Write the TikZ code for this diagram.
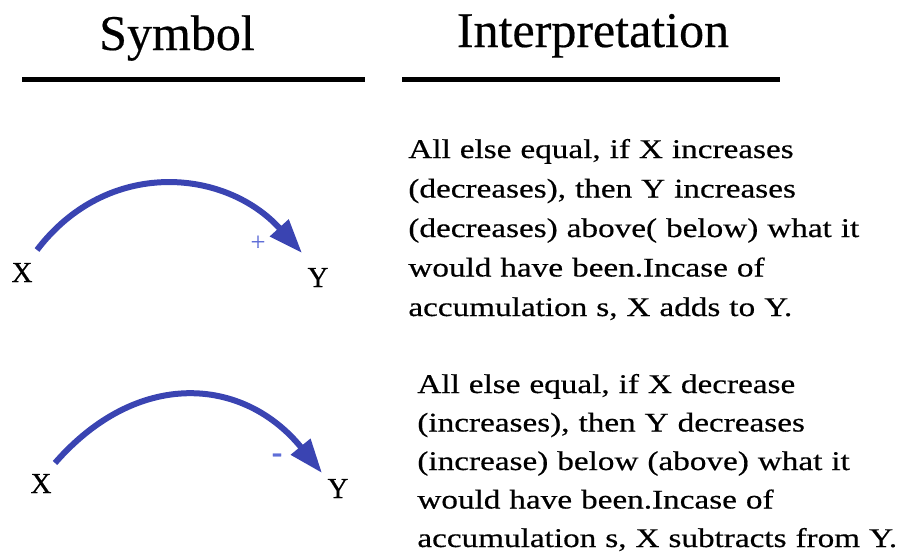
\documentclass[tikz,border=0pt]{standalone}
\usepackage{fontspec}
\setmainfont{Liberation Serif}[FakeBold=0.4]
\newfontfamily\bodyfont[FakeStretch=1.23,FakeBold=0.5]{Liberation Serif}
\usetikzlibrary{arrows.meta}
\definecolor{arcblue}{RGB}{58,68,178}
\definecolor{signblue}{RGB}{95,110,215}
\tikzset{
  head/.style={font=\fontsize{25}{30}\selectfont,anchor=base,inner sep=0pt},
  var/.style={font=\fontsize{14.5}{17}\selectfont,anchor=base,inner sep=0pt},
  txt/.style={font=\bodyfont\fontsize{13.5}{#1}\selectfont,anchor=base west,
              inner sep=0pt,text width=250pt,align=left},
  rule/.style={line width=2.5pt},
  arc/.style={arcblue,line width=3pt,-{Triangle[length=17pt,width=12pt]}},
  sgn/.style={signblue,inner sep=0pt},
}

\begin{document}
\begin{tikzpicture}[x=0.5pt, y=-0.5pt]
  \useasboundingbox (0,0) rectangle (902,558);
  \node[head] (hsym) at (177,50) {Symbol};
  \node[head] (hint) at (593,47) {Interpretation};
  \draw[rule] (22,79) -- (365,79);
  \draw[rule] (402,79) -- (780,79);
  \node[var] (x1) at (22,282) {X};
  \node[var] (y1) at (318,287) {Y};
  \coordinate (s1) at (37,250);
  \coordinate (t1) at (302,253);
  \draw[arc] (s1) .. controls +(70,-92) and +(-77,-85) .. (t1);
  \node[sgn, font=\fontsize{13}{15}\selectfont] (plus) at (258,243) {+};
  \node[var] (x2) at (41,493) {X};
  \node[var] (y2) at (338,498) {Y};
  \coordinate (s2) at (55,463);
  \coordinate (t2) at (322,473);
  \draw[arc] (s2) .. controls +(82,-94) and +(-79,-97) .. (t2);
  \node[sgn, font=\bfseries\fontsize{16}{18}\selectfont] (minus) at (277,458) {-};
  \node[txt=19.75pt] (int1) at (408,158) {All else equal, if X increases\\
    (decreases), then Y increases\\
    (decreases) above( below) what it\\
    would have been.Incase of\\
    accumulation s, X adds to Y.};
  \node[txt=19.25pt] (int2) at (417,393) {All else equal, if X decrease\\
    (increases), then Y decreases\\
    (increase) below (above) what it\\
    would have been.Incase of\\
    accumulation s, X subtracts from Y.};
\end{tikzpicture}
\end{document}
